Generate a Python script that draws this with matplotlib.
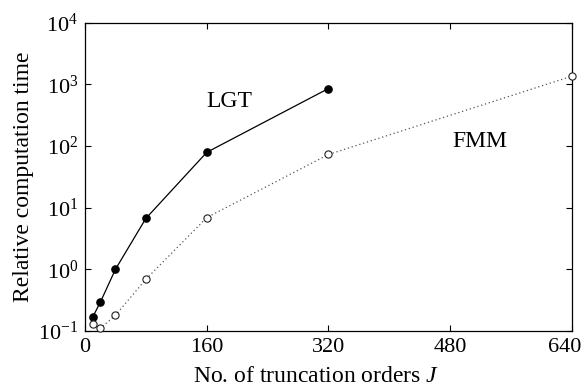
import math
import matplotlib
matplotlib.use("Agg")
import matplotlib.pyplot as plt
import matplotlib.transforms as mtransforms
from matplotlib.ticker import FixedLocator, FuncFormatter, NullLocator

# --- DATA ---
j_lgt = [10, 20, 40, 80, 160, 320]
t_lgt = [0.167, 0.29, 1.0, 6.7, 79, 857]

j_fmm = [10, 20, 40, 80, 160, 320, 640]
t_fmm = [0.128, 0.11, 0.18, 0.69, 6.9, 73, 1360]

x_ticks = [0, 160, 320, 480, 640]
y_ticks = [1e-1, 1e0, 1e1, 1e2, 1e3, 1e4]

plt.rcParams['font.family'] = ['Liberation Serif', 'DejaVu Serif']
plt.rcParams['mathtext.fontset'] = 'custom'
plt.rcParams['mathtext.rm'] = 'Liberation Serif'
plt.rcParams['mathtext.it'] = 'Liberation Serif:italic'

fig = plt.figure(figsize=(5.87, 3.89), dpi=100)
ax = fig.add_axes([0.1448, 0.1491, 0.8296, 0.7925])

ax.plot(j_lgt, t_lgt, color='black', linewidth=0.9, marker='o', markersize=5.2,
        markerfacecolor='black', markeredgecolor='black', clip_on=False, zorder=3)
ax.plot(j_fmm, t_fmm, color='#555555', linewidth=0.9, linestyle=(0, (1, 2.2)),
        marker='o', markersize=5.2, markerfacecolor='white',
        markeredgecolor='#222222', markeredgewidth=0.8, clip_on=False, zorder=3)

ax.set_yscale('log')
ax.set_xlim(0, 640)
ax.set_ylim(1e-1, 1e4)

ax.xaxis.set_major_locator(FixedLocator(x_ticks))
ax.yaxis.set_major_locator(FixedLocator(y_ticks))
ax.yaxis.set_minor_locator(NullLocator())
ax.yaxis.set_major_formatter(FuncFormatter(
    lambda v, pos: r'$\mathregular{10^{%d}}$' % round(math.log10(v))))

ax.tick_params(which='both', direction='in', top=True, right=True,
               length=4, width=0.8, labelsize=16, pad=5)
for s in ax.spines.values():
    s.set_linewidth(0.9)

# nudge the last x label so it stays inside the figure
fig.canvas.draw()
last = ax.get_xticklabels()[-1]
last.set_transform(last.get_transform() +
                   mtransforms.ScaledTranslation(-5 / 72, 0, fig.dpi_scale_trans))

ax.set_xlabel(r'No. of truncation orders $\mathit{J}$', fontsize=17, labelpad=1)
ax.xaxis.set_label_coords(0.475, -0.115)
ax.set_ylabel('Relative computation time', fontsize=17, labelpad=3)

ax.text(190, 535, 'LGT', fontsize=17, ha='center', va='center')
ax.text(519, 120, 'FMM', fontsize=17, ha='center', va='center')

fig.savefig('out.png', dpi=100)
